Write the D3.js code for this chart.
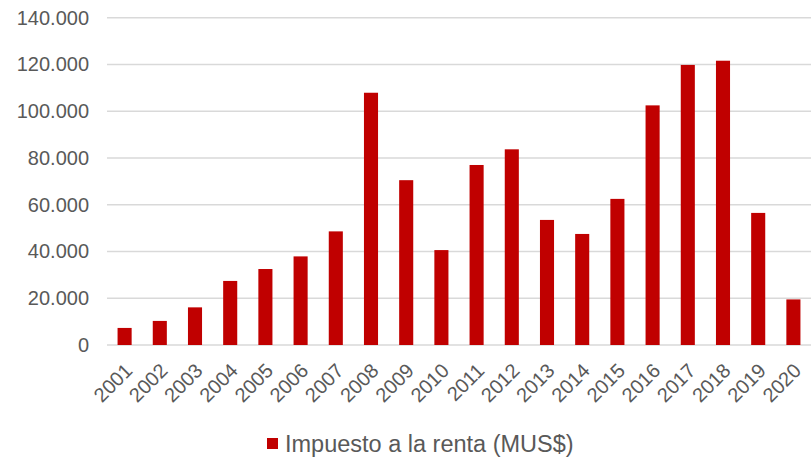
<!DOCTYPE html>
<html><head><meta charset="utf-8">
<script src="https://cdn.jsdelivr.net/npm/d3@7"></script>
<style>body{margin:0;background:#fff}svg{display:block;font-family:"Liberation Sans",Arial,sans-serif}</style>
</head><body><svg id="c" width="811" height="458"></svg>
<script>
const years = ["2001","2002","2003","2004","2005","2006","2007","2008","2009","2010","2011","2012","2013","2014","2015","2016","2017","2018","2019","2020"];
const values = [7300,10300,16100,27400,32500,37900,48600,107900,70500,40600,77000,83700,53500,47500,62500,102500,119800,121600,56500,19500];
const yTicks = [0,20000,40000,60000,80000,100000,120000,140000];
const seriesName = "Impuesto a la renta (MUS$)";

const svg = d3.select("#c");
const m = {left:107, right:0};
const W = 811;
const x = d3.scaleBand().domain(years).range([m.left, W - m.right]).paddingInner(0.6).paddingOuter(0.3);
const y = d3.scaleLinear().domain([0,140000]).range([345, 17.7]);
const fmt = v => v === 0 ? "0" : d3.format(",")(v).replace(/,/g, ".");

// grid
svg.append("g").selectAll("line").data(yTicks).join("line")
  .attr("x1", m.left).attr("x2", W).attr("y1", d => y(d)).attr("y2", d => y(d))
  .attr("stroke", "#d9d9d9").attr("stroke-width", 1.5);

// y labels
const yAxis = svg.append("g").attr("transform", `translate(${m.left - 18},0)`)
  .call(d3.axisLeft(y).tickValues(yTicks).tickFormat(fmt).tickSize(0).tickPadding(0));
yAxis.select(".domain").remove();
yAxis.selectAll("text").attr("fill", "#595959").attr("font-size", 20).attr("font-family", '"Liberation Sans",Arial,sans-serif');

// bars
svg.append("g").selectAll("rect").data(values).join("rect")
  .attr("x", (d,i) => x(years[i])).attr("width", x.bandwidth())
  .attr("y", d => y(d)).attr("height", d => y(0) - y(d))
  .attr("fill", "#c00000");

// x labels
const xAxis = svg.append("g").attr("transform", `translate(0,${y(0)})`)
  .call(d3.axisBottom(x).tickSize(0).tickPadding(0));
xAxis.select(".domain").remove();
xAxis.selectAll("text")
  .attr("fill", "#595959").attr("font-size", 20).attr("font-family", '"Liberation Sans",Arial,sans-serif')
  .attr("text-anchor", "end").attr("dy", "0.35em")
  .attr("transform", "translate(4,22) rotate(-45)");

// legend
const lg = svg.append("g");
lg.append("rect").attr("x", 267).attr("y", 438).attr("width", 11).attr("height", 11).attr("fill", "#c00000");
lg.append("text").attr("x", 285).attr("y", 451.5).attr("fill", "#595959").attr("font-size", 23.5).text(seriesName);
</script></body></html>
